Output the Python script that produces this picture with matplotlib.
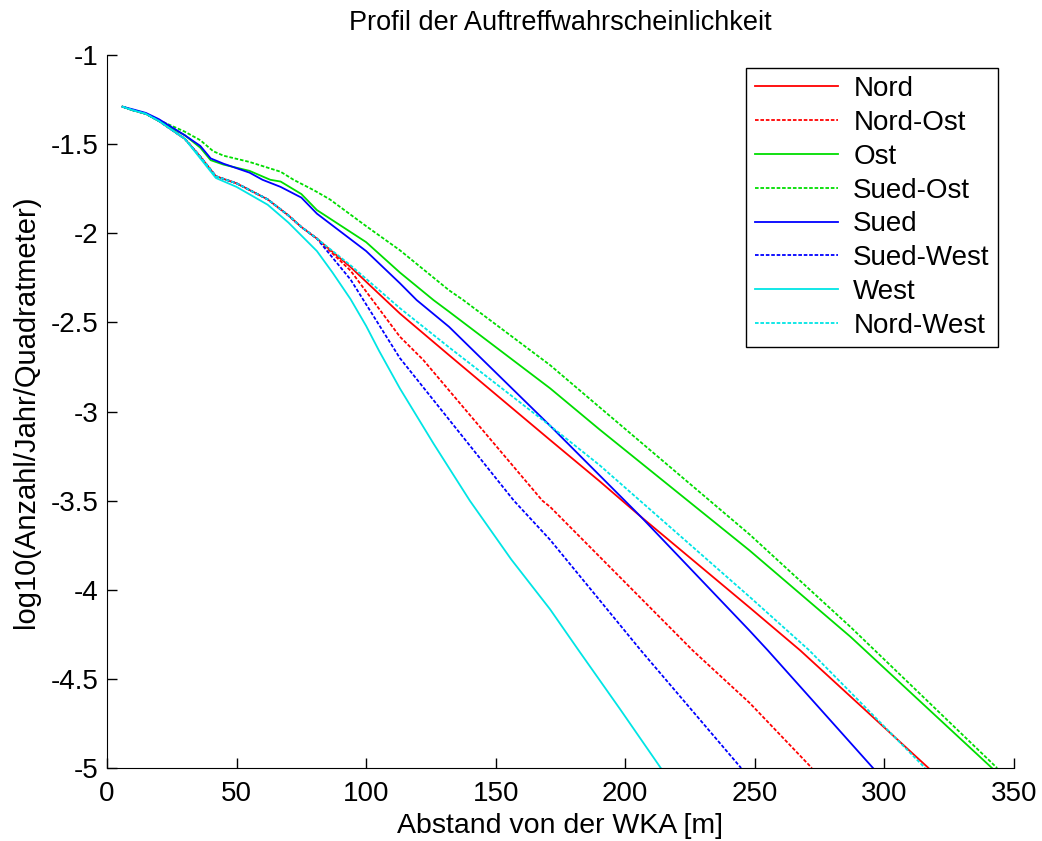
import matplotlib
matplotlib.use("Agg")
import matplotlib.pyplot as plt
from matplotlib.ticker import FuncFormatter

plt.rcParams["font.family"] = ["Liberation Sans", "DejaVu Sans"]
plt.rcParams["axes.unicode_minus"] = False

# %% data (x in m, y = log10 value)
head_x = [6, 10, 15, 20]
head_y = [-1.29, -1.31, -1.33, -1.37]

low_x = [30, 36, 42, 50, 56, 62, 70, 75, 81]
low_y = [-1.47, -1.57, -1.68, -1.72, -1.765, -1.81, -1.90, -1.965, -2.03]

nord_x = head_x + low_x + [94, 113, 132, 171, 190, 206, 248, 267.5, 317]
nord_y = head_y + low_y + [-2.19, -2.45, -2.684, -3.16, -3.39, -3.59, -4.10, -4.34, -5.0]

nordost_x = head_x + low_x + [94, 113, 122, 168, 171, 226, 248, 272]
nordost_y = head_y + low_y + [-2.21, -2.58, -2.71, -3.50, -3.535, -4.34, -4.635, -5.0]

ost_x = head_x + [30, 36, 40, 45, 55, 63, 67, 75, 81, 100, 113, 126, 132, 171, 190, 248, 287, 341.5]
ost_y = head_y + [-1.45, -1.52, -1.59, -1.615, -1.65, -1.70, -1.71, -1.78, -1.87, -2.05,
                  -2.22, -2.375, -2.44, -2.87, -3.10, -3.78, -4.265, -5.0]

suedost_x = head_x + [30, 36, 41, 45, 55, 67, 72, 80, 86, 100, 113, 132, 137.5, 171, 190, 248, 287, 343.5]
suedost_y = [-1.29, -1.31, -1.33, -1.365] + [-1.43, -1.478, -1.54, -1.565, -1.60, -1.655, -1.70,
                                            -1.76, -1.81, -1.96, -2.095, -2.32, -2.375, -2.74,
                                            -2.975, -3.69, -4.21, -5.0]

sued_x = head_x + [30, 36, 40, 45, 55, 60, 67, 75, 81, 100, 113, 119.5, 132, 171, 190, 206, 248, 255, 295.6]
sued_y = [-1.29, -1.305, -1.325, -1.36] + [-1.45, -1.51, -1.58, -1.61, -1.66, -1.70, -1.74, -1.80,
                                          -1.89, -2.10, -2.28, -2.375, -2.525, -3.08, -3.357,
                                          -3.59, -4.23, -4.34, -5.0]

suedwest_x = head_x + low_x + [94, 113, 157, 171, 206, 244.7]
suedwest_y = head_y + low_y + [-2.26, -2.70, -3.50, -3.72, -4.34, -5.0]

west_x = head_x + [30, 36, 42, 50, 56, 62, 70, 81, 87, 94, 100, 105, 113, 126, 140, 156, 171, 182, 198, 213.7]
west_y = head_y + [-1.47, -1.58, -1.69, -1.74, -1.79, -1.84, -1.94, -2.10, -2.22, -2.37, -2.52,
                   -2.66, -2.87, -3.18, -3.50, -3.83, -4.11, -4.34, -4.67, -5.0]

nordwest_x = head_x + low_x + [94, 113, 132, 171, 190, 248, 271, 315.7]
nordwest_y = head_y + low_y + [-2.18, -2.42, -2.64, -3.08, -3.30, -4.04, -4.34, -5.0]

labels = ["Nord", "Nord-Ost", "Ost", "Sued-Ost", "Sued", "Sued-West", "West", "Nord-West"]
colors = ["#ff0000", "#ff0000", "#00dd00", "#00dd00", "#0000ff", "#0000ff", "#00e5e5", "#00e5e5"]
series = [(nord_x, nord_y), (nordost_x, nordost_y), (ost_x, ost_y), (suedost_x, suedost_y),
          (sued_x, sued_y), (suedwest_x, suedwest_y), (west_x, west_y), (nordwest_x, nordwest_y)]

# %%
fig = plt.figure(figsize=(10.42, 8.41), dpi=100)
ax = fig.add_axes([0.1027, 0.0868, 0.8704, 0.8478])

for i, ((xs, ys), lab, col) in enumerate(zip(series, labels, colors)):
    ls = "-" if i % 2 == 0 else (0, (2, 1))
    ax.plot(xs, ys, color=col, linestyle=ls, linewidth=1.3, label=lab)

ax.set_xlim(0, 350)
ax.set_ylim(-5, -1)
ax.set_xticks(range(0, 351, 50))
ax.set_yticks([-5, -4.5, -4, -3.5, -3, -2.5, -2, -1.5, -1])
ax.yaxis.set_major_formatter(FuncFormatter(lambda v, p: "%g" % v))
ax.tick_params(direction="in", length=7, width=1, labelsize=20)
ax.tick_params(axis="x", pad=9)
ax.tick_params(axis="y", pad=6)
ax.spines["top"].set_visible(False)
ax.spines["right"].set_visible(False)

ax.set_title("Profil der Auftreffwahrscheinlichkeit", fontsize=19.5, pad=18)
ax.set_xlabel("Abstand von der WKA [m]", fontsize=20.5, labelpad=5)
ax.set_ylabel("log10(Anzahl/Jahr/Quadratmeter)", fontsize=21, labelpad=8)

leg = ax.legend(loc="upper right", bbox_to_anchor=(0.9825, 0.982), fontsize=20,
                fancybox=False, framealpha=1, edgecolor="black", handlelength=3.0,
                handletextpad=0.55, labelspacing=0.28, borderpad=0.3, borderaxespad=0)
leg.get_frame().set_linewidth(1.0)

fig.savefig("out.png", dpi=100)
